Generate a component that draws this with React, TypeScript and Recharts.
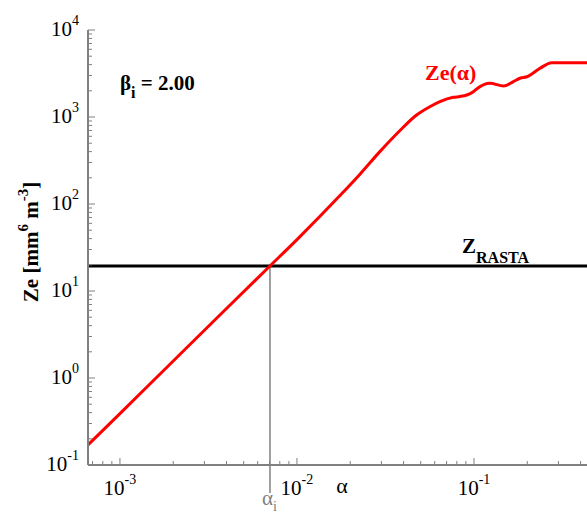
import React from 'react';
import { LineChart, Line, XAxis, YAxis, ReferenceLine } from 'recharts';

// values (log-log)
const alphaVals = [6.6e-4, 1e-3, 2e-3, 4e-3, 7.04e-3, 0.01, 0.0175, 0.0227, 0.0294, 0.0382, 0.0474, 0.0563, 0.0642, 0.0764, 0.0834, 0.091, 0.0991, 0.1035, 0.123, 0.147, 0.167, 0.182, 0.199, 0.236, 0.275, 0.435];
const zeVals = [0.17, 0.39, 1.57, 6.3, 19.4, 39, 125, 220, 400, 700, 1054, 1312, 1500, 1683, 1720, 1790, 1955, 2100, 2440, 2270, 2550, 2790, 2900, 3630, 4210, 4210];

const alphaI = 7.04e-3;
const zRasta = 19.4;
const betaI = '2.00';

const xDomain = [6.6e-4, 0.435];
const yDomain = [0.1, 10000];

const xMajor = [1e-3, 1e-2, 1e-1];
const xMinor = [7e-4, 8e-4, 9e-4, 2e-3, 3e-3, 4e-3, 5e-3, 6e-3, 7e-3, 8e-3, 9e-3, 2e-2, 3e-2, 4e-2, 5e-2, 6e-2, 7e-2, 8e-2, 9e-2, 2e-1, 3e-1, 4e-1];
const xExp = ['-3', '-2', '-1'];

const yMajor = [0.1, 1, 10, 100, 1000, 10000];
const yMinor = [0.2, 0.3, 0.4, 0.5, 0.6, 0.7, 0.8, 0.9, 2, 3, 4, 5, 6, 7, 8, 9, 20, 30, 40, 50, 60, 70, 80, 90, 200, 300, 400, 500, 600, 700, 800, 900, 2000, 3000, 4000, 5000, 6000, 7000, 8000, 9000];
const yExp = ['-1', '0', '1', '2', '3', '4'];

const data = alphaVals.map((a, i) => ({ alpha: a, ze: zeVals[i] }));

const FONT = { fontFamily: 'Liberation Serif, serif' };
const AXIS = '#808080';

const BottomTick = (props: any) => {
  const { x, y, payload } = props;
  const v = payload.value;
  if (v === alphaI) {
    return (
      <g>
        <line x1={x} y1={y} x2={x} y2={y + 28} stroke={AXIS} strokeWidth={1.5} />
        <text x={x - 8} y={y + 40} style={FONT} fontSize={21} fill={AXIS}>
          α<tspan dy={6} fontSize={14}>i</tspan>
        </text>
      </g>
    );
  }
  const mi = xMajor.indexOf(v);
  return (
    <g>
      <line x1={x} y1={y} x2={x} y2={y - (mi >= 0 ? 7 : 4)} stroke={AXIS} strokeWidth={1} />
      {mi >= 0 && (
        <text x={x} y={y + 30} textAnchor="middle" style={FONT} fontSize={21} fill="#000">
          10<tspan dy={-11} fontSize={14}>{xExp[mi]}</tspan>
        </text>
      )}
    </g>
  );
};

const TopTick = (props: any) => {
  const { x, y, payload } = props;
  const major = xMajor.indexOf(payload.value) >= 0;
  return <line x1={x} y1={y} x2={x} y2={y + (major ? 7 : 4)} stroke={AXIS} strokeWidth={1} />;
};

const LeftTick = (props: any) => {
  const { x, y, payload } = props;
  const mi = yMajor.indexOf(payload.value);
  return (
    <g>
      <line x1={x} y1={y} x2={x + (mi >= 0 ? 7 : 4)} y2={y} stroke={AXIS} strokeWidth={1} />
      {mi >= 0 && (
        <text x={x - 9} y={y + 6} textAnchor="end" style={FONT} fontSize={21} fill="#000">
          10<tspan dy={-11} fontSize={14}>{yExp[mi]}</tspan>
        </text>
      )}
    </g>
  );
};

const RastaLabel = (props: any) => {
  const { viewBox } = props;
  return (
    <text x={viewBox.x + 374} y={viewBox.y - 13} style={FONT} fontWeight="bold" fontSize={21} fill="#000">
      Z<tspan dy={10} fontSize={16}>RASTA</tspan>
    </text>
  );
};

export default function App() {
  return (
    <div style={{ position: 'absolute', left: 0, top: 0, width: 587, height: 516, background: '#fff' }}>
      <LineChart width={587} height={516} data={data} margin={{ top: 30, right: 0, left: 0, bottom: 0 }}>
        <XAxis
          dataKey="alpha"
          type="number"
          scale="log"
          domain={xDomain}
          allowDataOverflow
          ticks={[...xMajor, ...xMinor, alphaI]}
          interval={0}
          height={51}
          tickLine={false}
          tickSize={0}
          tickMargin={0}
          axisLine={{ stroke: AXIS, strokeWidth: 2 }}
          tick={<BottomTick />}
        />
        <XAxis
          xAxisId="top"
          orientation="top"
          dataKey="alpha"
          type="number"
          scale="log"
          domain={xDomain}
          allowDataOverflow
          ticks={[...xMajor, ...xMinor]}
          interval={0}
          height={0}
          tickLine={false}
          tickSize={0}
          tickMargin={0}
          axisLine={{ stroke: AXIS, strokeWidth: 2 }}
          tick={<TopTick />}
        />
        <YAxis
          type="number"
          scale="log"
          domain={yDomain}
          allowDataOverflow
          ticks={[...yMajor, ...yMinor]}
          interval={0}
          width={88}
          tickLine={false}
          tickSize={0}
          tickMargin={0}
          axisLine={{ stroke: AXIS, strokeWidth: 2 }}
          tick={<LeftTick />}
        />
        <ReferenceLine
          segment={[{ x: alphaI, y: yDomain[0] }, { x: alphaI, y: zRasta }]}
          stroke={AXIS}
          strokeWidth={1.5}
        />
        <ReferenceLine y={zRasta} stroke="#000" strokeWidth={3} label={<RastaLabel />} />
        <Line
          type="monotone"
          dataKey="ze"
          stroke="#ff0000"
          strokeWidth={3}
          dot={false}
          isAnimationActive={false}
        />
        <text x={120} y={90} style={FONT} fontWeight="bold" fontSize={21} fill="#000">
          β<tspan dy={8} fontSize={16}>i</tspan>
          <tspan dy={-8}> = {betaI}</tspan>
        </text>
        <text x={425} y={80} style={FONT} fontWeight="bold" fontSize={22} fill="#ff0000">
          Ze(α)
        </text>
        <text x={342} y={493} textAnchor="middle" style={FONT} fontSize={22} fill="#000">
          α
        </text>
        <text
          transform="translate(38 242) rotate(-90)"
          textAnchor="middle"
          style={FONT}
          fontWeight="bold"
          fontSize={21}
          fill="#000"
        >
          Ze [mm<tspan dy={-10} fontSize={15}>6</tspan>
          <tspan dy={10}> m</tspan>
          <tspan dy={-10} fontSize={15}>-3</tspan>
          <tspan dy={10}>]</tspan>
        </text>
      </LineChart>
    </div>
  );
}
